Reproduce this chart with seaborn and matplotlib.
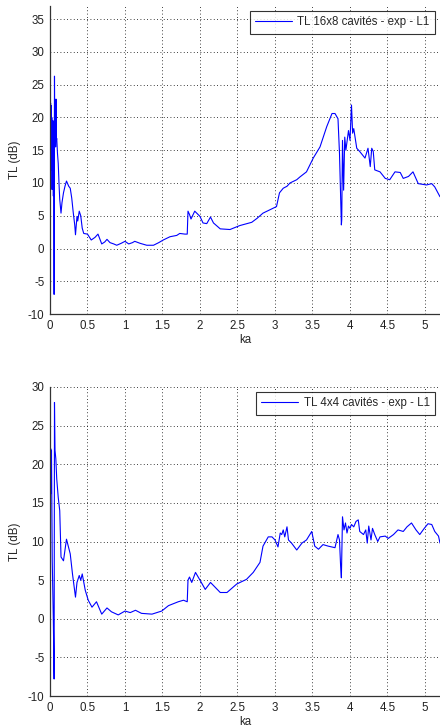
import numpy as np
import pandas as pd
import matplotlib
matplotlib.use("Agg")
import matplotlib.pyplot as plt
import seaborn as sns

# TL 16x8 cavities - exp - L1
ka_16x8 = [0.0, 0.004, 0.008, 0.012, 0.016, 0.02, 0.024, 0.028, 0.032, 0.036,
           0.04, 0.045, 0.05, 0.055, 0.06, 0.065, 0.07, 0.075, 0.08, 0.085,
           0.09, 0.1, 0.11, 0.12, 0.13, 0.14, 0.147, 0.16, 0.18, 0.2,
           0.22, 0.25, 0.27, 0.29, 0.31, 0.33, 0.34, 0.36, 0.37, 0.39,
           0.41, 0.43, 0.45, 0.5, 0.55, 0.6, 0.64, 0.69, 0.73, 0.76,
           0.8, 0.85, 0.89, 0.95, 1.0, 1.05, 1.1, 1.13, 1.2, 1.29,
           1.38, 1.45, 1.51, 1.6, 1.69, 1.73, 1.8, 1.83, 1.84, 1.86,
           1.88, 1.93, 2.0, 2.04, 2.09, 2.14, 2.18, 2.27, 2.4, 2.53,
           2.69, 2.76, 2.84, 2.93, 3.02, 3.06, 3.11, 3.16, 3.2, 3.29,
           3.33, 3.42, 3.51, 3.6, 3.69, 3.76, 3.8, 3.84, 3.86, 3.875,
           3.885, 3.89, 3.9, 3.915, 3.93, 3.945, 3.98, 4.0, 4.02, 4.035,
           4.05, 4.09, 4.13, 4.2, 4.24, 4.27, 4.29, 4.31, 4.33, 4.4,
           4.47, 4.53, 4.6, 4.67, 4.71, 4.78, 4.84, 4.91, 5.02, 5.09,
           5.13, 5.2]
tl_16x8 = [20, 18.5, 22.2, 16, 21.8, 12, 20, 9, 19, 14,
           19.5, 8, 18, -7, 26.3, 16, 21, 15.5, 22.8, 16.5,
           16.8, 14.5, 13, 10, 7.5, 6.2, 5.4, 7, 8.5, 9.5,
           10.3, 9.5, 9.2, 7.7, 5.5, 3.6, 2.1, 4.9, 4.2, 5.7,
           5.0, 3.1, 2.3, 2.2, 1.3, 1.7, 2.2, 0.7, 1.0, 1.4,
           0.9, 0.7, 0.5, 0.8, 1.1, 0.7, 0.9, 1.1, 0.8, 0.5,
           0.5, 0.9, 1.3, 1.8, 2.0, 2.3, 2.2, 2.2, 5.7, 5.2,
           4.5, 5.7, 4.9, 3.9, 3.8, 4.8, 3.9, 3.0, 2.9, 3.5,
           4.0, 4.6, 5.4, 5.9, 6.4, 8.5, 9.2, 9.5, 10.0, 10.5,
           10.9, 11.7, 13.8, 15.5, 18.6, 20.6, 20.6, 19.8, 14.5, 7.9,
           3.6, 4.4, 16.5, 8.9, 17, 15, 18, 16.5, 21.9, 17.6,
           18.3, 15.3, 14.8, 13.8, 15.3, 12.5, 15.3, 14.8, 12, 11.7,
           10.7, 10.5, 11.7, 11.6, 10.7, 11, 11.7, 9.9, 9.7, 9.9,
           9.4, 7.9]

# TL 4x4 cavities - exp - L1
ka_4x4 = [0.0, 0.005, 0.01, 0.015, 0.02, 0.03, 0.045, 0.055, 0.06, 0.067,
          0.078, 0.09, 0.11, 0.13, 0.147, 0.18, 0.22, 0.27, 0.3, 0.34,
          0.36, 0.39, 0.41, 0.43, 0.47, 0.51, 0.56, 0.62, 0.69, 0.76,
          0.82, 0.91, 1.0, 1.07, 1.14, 1.22, 1.36, 1.49, 1.58, 1.71,
          1.78, 1.83, 1.84, 1.86, 1.89, 1.94, 2.0, 2.07, 2.14, 2.2,
          2.27, 2.36, 2.49, 2.62, 2.71, 2.8, 2.84, 2.91, 2.96, 3.0,
          3.04, 3.07, 3.09, 3.11, 3.13, 3.16, 3.18, 3.22, 3.29, 3.36,
          3.42, 3.49, 3.53, 3.58, 3.64, 3.71, 3.8, 3.84, 3.86, 3.875,
          3.885, 3.9, 3.92, 3.94, 3.96, 3.98, 4.0, 4.02, 4.05, 4.08,
          4.11, 4.13, 4.18, 4.21, 4.23, 4.25, 4.28, 4.3, 4.33, 4.37,
          4.4, 4.47, 4.51, 4.58, 4.64, 4.71, 4.76, 4.82, 4.88, 4.93,
          4.99, 5.04, 5.09, 5.13, 5.18, 5.2]
tl_4x4 = [19, 16, 22, 16.2, 21.8, 7.5, -0.4, -7.8, 28, 21.8,
          20.7, 18.1, 15.7, 14, 8, 7.5, 10.3, 8.4, 5.8, 2.8,
          4.7, 5.6, 5.0, 5.8, 3.7, 2.4, 1.5, 2.2, 0.6, 1.4,
          0.9, 0.5, 1.0, 0.8, 1.1, 0.7, 0.6, 1.0, 1.7, 2.2,
          2.4, 2.2, 5.0, 5.4, 4.7, 6.0, 5.0, 3.8, 4.7, 4.1,
          3.4, 3.4, 4.5, 5.1, 6.0, 7.3, 9.4, 10.6, 10.6, 10.2,
          9.3, 11.1, 10.9, 11.5, 10.6, 11.9, 10.2, 9.8, 8.9, 9.8,
          10.2, 11.3, 9.4, 9.0, 9.6, 9.4, 9.2, 10.9, 10.2, 6.8,
          5.3, 13.2, 11.5, 12.4, 11.1, 12.0, 11.7, 12.2, 11.9, 12.6,
          12.8, 11.3, 10.9, 11.5, 9.8, 12.0, 10.2, 11.7, 10.9, 10.0,
          10.6, 10.7, 10.4, 10.9, 11.5, 11.3, 11.9, 12.4, 11.5, 10.9,
          11.7, 12.3, 12.2, 11.3, 10.7, 9.8]

x_ticks = [0, 0.5, 1, 1.5, 2, 2.5, 3, 3.5, 4, 4.5, 5]
x_ticklabels = ["0", "0.5", "1", "1.5", "2", "2.5", "3", "3.5", "4", "4.5", "5"]

sns.set_style("white")
plt.rcParams["font.family"] = ["Liberation Sans", "DejaVu Sans"]
plt.rcParams["font.size"] = 8
plt.rcParams["axes.unicode_minus"] = False


def draw_panel(ax, ka, tl, label, ylim, yticks):
    df = pd.DataFrame({"ka": ka, "TL": tl})
    sns.lineplot(data=df, x="ka", y="TL", ax=ax, color="#0000ff", linewidth=0.8,
                 estimator=None, sort=False, label=label)
    ax.set_xlim(0, 5.2)
    ax.set_ylim(*ylim)
    ax.set_xticks(x_ticks)
    ax.set_xticklabels(x_ticklabels)
    ax.set_yticks(yticks)
    ax.grid(True, linestyle=(0, (1, 3)), color="black", linewidth=0.6)
    ax.tick_params(direction="in", length=3, labelsize=8.3, pad=4,
                   color="#222222", labelcolor="#222222")
    for side in ["top", "right"]:
        ax.spines[side].set_visible(False)
    for side in ["left", "bottom"]:
        ax.spines[side].set_color("#333333")
        ax.spines[side].set_linewidth(0.9)
    ax.set_xlabel("ka", fontsize=8.3, labelpad=2)
    ax.set_ylabel("TL (dB)", fontsize=8.3, labelpad=5)
    leg = ax.legend(loc="upper right", fontsize=8.3, frameon=True, fancybox=False,
                    handlelength=3.2, handletextpad=0.5, borderpad=0.45,
                    borderaxespad=0.45)
    leg.get_frame().set_edgecolor("black")
    leg.get_frame().set_linewidth(0.8)


fig = plt.figure(figsize=(4.4, 7.27), dpi=100)
ax1 = fig.add_axes([0.1136, 0.568, 0.8864, 0.4237])
ax2 = fig.add_axes([0.1136, 0.0426, 0.8864, 0.4251])

draw_panel(ax1, ka_16x8, tl_16x8, "TL 16x8 cavités - exp - L1", (-10, 37),
           list(range(-10, 36, 5)))
draw_panel(ax2, ka_4x4, tl_4x4, "TL 4x4 cavités - exp - L1", (-10, 30),
           list(range(-10, 31, 5)))

fig.savefig("out.png", dpi=100)
